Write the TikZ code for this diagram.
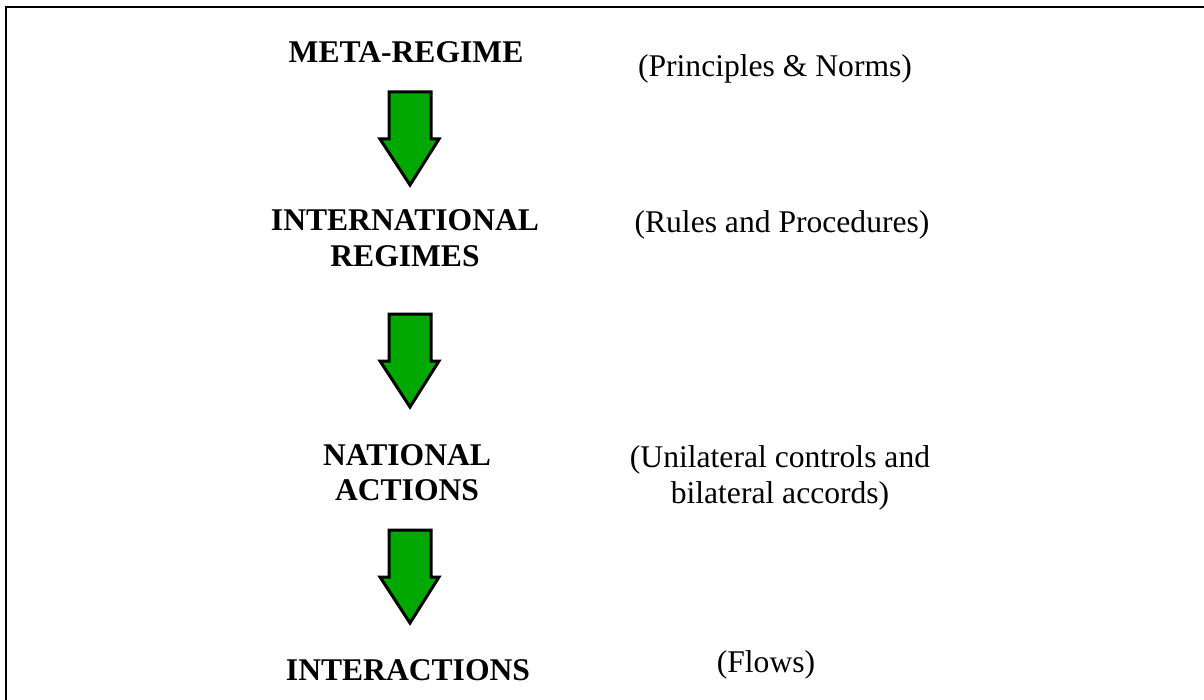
\documentclass[tikz,border=0pt]{standalone}
\usepackage{fontspec}
\setmainfont{Liberation Serif}
\usetikzlibrary{positioning}
\definecolor{arrowgreen}{RGB}{0,168,0}
\tikzset{
    level/.style={font=\fontsize{15.8}{17.5}\selectfont\bfseries, align=center, anchor=base},
    note/.style={font=\fontsize{15.8}{18}\selectfont, align=center, anchor=base},
    flowarrow/.style={draw=black, fill=arrowgreen, line width=1.5pt, line join=miter}
}

\begin{document}
\begin{tikzpicture}[x=0.5pt,y=-0.5pt]
    \useasboundingbox (0,0) rectangle (1204,700);
    \draw[line width=1.2pt] (6,700) -- (6,7) -- (1204,7);
    % levels (base = last line)
    \node[level] (meta) at (406,63) {META-REGIME};
    \node[level] (intl) at (405,266) {INTERNATIONAL\\REGIMES};
    \node[level] (natl) at (407,500) {NATIONAL\\ACTIONS};
    \node[level] (inter) at (408,680) {INTERACTIONS};
    % notes
    \node[note] (principles) at (775,77) {(Principles \& Norms)};
    \node[note] (rules) at (782,233) {(Rules and Procedures)};
    \node[note] (unilateral) at (780,503) {(Unilateral controls and\\bilateral accords)};
    \node[note] (flows) at (766,672) {(Flows)};
    % arrows
    \foreach \y in {92,314,530}
        \draw[flowarrow] (389,\y) -- (431,\y) -- (431,\y+47) -- (439,\y+47)
            -- (410,\y+93) -- (380,\y+47) -- (389,\y+47) -- cycle;
\end{tikzpicture}
\end{document}
